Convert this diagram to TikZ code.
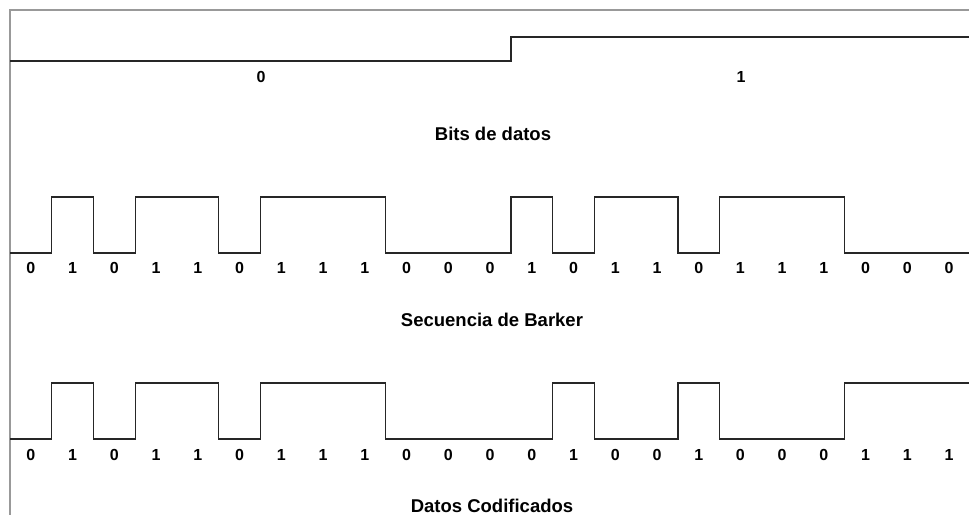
\documentclass[tikz,border=0pt]{standalone}
\usepackage{fontspec}
\setmainfont{Liberation Sans}
\begin{document}
\begin{tikzpicture}[x=1pt,y=-1pt,
  frame/.style={draw=black!40,line width=2pt},
  wave/.style={draw=black!85,line width=1.4pt,line join=miter},
  digit/.style={font=\fontsize{16}{19}\selectfont\bfseries,inner sep=0pt},
  caption/.style={font=\fontsize{18.5}{22}\selectfont\bfseries,inner sep=0pt}]
\useasboundingbox (0,0) rectangle (969,515);
\fill[white] (0,0) rectangle (969,515);
\def\chipw{41.739}
% outer frame (top and left edges)
\draw[frame] (969,10) -- (10,10) -- (10,515);
% chip boundaries on each signal level
\foreach \k in {0,...,23}{
  \coordinate (bl\k) at ({10+\chipw*\k},253);
  \coordinate (bh\k) at ({10+\chipw*\k},197);
  \coordinate (cl\k) at ({10+\chipw*\k},439);
  \coordinate (ch\k) at ({10+\chipw*\k},383);
}
% data bits
\coordinate (d0) at (10,61);
\coordinate (d1) at (bl12 |- 0,61);
\coordinate (d2) at (bl12 |- 0,37);
\coordinate (d3) at (969,37);
\draw[wave] (d0) -- (d1) -- (d2) -- (d3);
\node[digit] (bit0) at (261,77) {0};
\node[digit] (bit1) at (741,77) {1};
\node[caption] (capbits) at (493,134) {Bits de datos};
% Barker sequence
\draw[wave] (bl0) -- (bl1) -- (bh1) -- (bh2) -- (bl2) -- (bl3) -- (bh3) -- (bh5)
  -- (bl5) -- (bl6) -- (bh6) -- (bh9) -- (bl9) -- (bl12) -- (bh12) -- (bh13)
  -- (bl13) -- (bl14) -- (bh14) -- (bh16) -- (bl16) -- (bl17) -- (bh17) -- (bh20)
  -- (bl20) -- (bl23);
\foreach \v [count=\k from 0] in {0,1,0,1,1,0,1,1,1,0,0,0,1,0,1,1,0,1,1,1,0,0,0}
  \node[digit] (bd\k) at ({10+\chipw*(\k+0.5)},268) {\v};
\node[caption] (capbarker) at (492,320) {Secuencia de Barker};
% coded data
\draw[wave] (cl0) -- (cl1) -- (ch1) -- (ch2) -- (cl2) -- (cl3) -- (ch3) -- (ch5)
  -- (cl5) -- (cl6) -- (ch6) -- (ch9) -- (cl9) -- (cl13) -- (ch13) -- (ch14)
  -- (cl14) -- (cl16) -- (ch16) -- (ch17) -- (cl17) -- (cl20) -- (ch20) -- (ch23);
\foreach \v [count=\k from 0] in {0,1,0,1,1,0,1,1,1,0,0,0,0,1,0,0,1,0,0,0,1,1,1}
  \node[digit] (cd\k) at ({10+\chipw*(\k+0.5)},455) {\v};
\node[caption] (capcoded) at (492,506) {Datos Codificados};
\end{tikzpicture}
\end{document}
